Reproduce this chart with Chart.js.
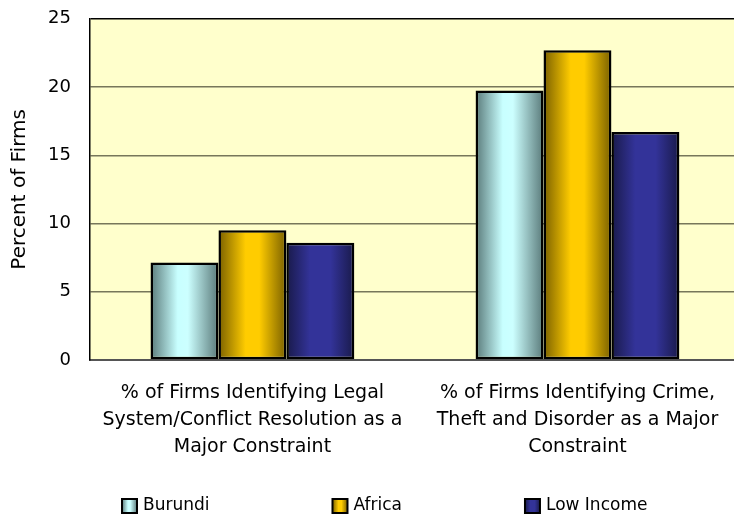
<!DOCTYPE html>
<html>
<head>
<meta charset="utf-8">
<script src="https://cdn.jsdelivr.net/npm/chart.js@4"></script>
<style>
    html, body { margin: 0; padding: 0; background: #fff; overflow: hidden; }
    #wrap { width: 740px; height: 516px; }
</style>
</head>
<body>
<div id="wrap"><canvas id="firmsChart" width="740" height="516"></canvas></div>
<script>
const categories = [
    ['% of Firms Identifying Legal', 'System/Conflict Resolution as a', 'Major Constraint'],
    ['% of Firms Identifying Crime,', 'Theft and Disorder as a Major', 'Constraint']
];
const seriesNames = ['Burundi', 'Africa', 'Low Income'];
const burundiValues = [7.15, 19.75];
const africaValues = [9.5, 22.7];
const lowIncomeValues = [8.6, 16.7];
const yTicks = [0, 5, 10, 15, 20, 25];

const baseColors = ['#ccffff', '#ffcc00', '#333399'];
const gradientStops = [
    [[0, '#5a7a7a'], [0.4, '#c8ffff'], [0.55, '#ccffff'], [1, '#5a7a7a']],
    [[0, '#7a6000'], [0.4, '#ffcc00'], [0.6, '#ffcc00'], [1, '#7a6000']],
    [[0, '#191a4a'], [0.35, '#333399'], [0.65, '#333399'], [1, '#191a4a']]
];
const FONT = 'DejaVu Sans';

function makeGradient(ctx, x0, x1, stops) {
    const g = ctx.createLinearGradient(x0, 0, x1, 0);
    stops.forEach(s => g.addColorStop(s[0], s[1]));
    return g;
}

const plotBackground = {
    id: 'plotBackground',
    beforeDraw(chart) {
        const { ctx, chartArea } = chart;
        ctx.save();
        ctx.fillStyle = '#ffffcc';
        ctx.fillRect(chartArea.left, chartArea.top, chartArea.right - chartArea.left, chartArea.bottom - chartArea.top);
        ctx.restore();
    }
};

// bars share one options object, so give each its own copy with a gradient
const cylinderFill = {
    id: 'cylinderFill',
    beforeDatasetsDraw(chart) {
        const ctx = chart.ctx;
        chart.data.datasets.forEach((ds, i) => {
            chart.getDatasetMeta(i).data.forEach(bar => {
                const half = bar.width / 2;
                const opts = Object.assign({}, bar.options);
                opts.backgroundColor = makeGradient(ctx, bar.x - half, bar.x + half, gradientStops[i]);
                bar.options = opts;
            });
        });
    }
};

const bottomLegend = {
    id: 'bottomLegend',
    afterDraw(chart) {
        const ctx = chart.ctx;
        const y = 506;
        let x = 122;
        ctx.save();
        ctx.font = '17px "' + FONT + '"';
        ctx.textBaseline = 'middle';
        chart.data.datasets.forEach((ds, i) => {
            ctx.fillStyle = makeGradient(ctx, x, x + 15, gradientStops[i]);
            ctx.fillRect(x, y - 7, 15, 14);
            ctx.strokeStyle = '#000';
            ctx.lineWidth = 2;
            ctx.strokeRect(x, y - 7, 15, 14);
            ctx.fillStyle = '#000';
            ctx.fillText(ds.label, x + 21, y);
            x += 21 + ctx.measureText(ds.label).width + 123;
        });
        ctx.restore();
    }
};

const ctx = document.getElementById('firmsChart').getContext('2d');
new Chart(ctx, {
    type: 'bar',
    data: {
        labels: categories,
        datasets: [
            { label: seriesNames[0], data: burundiValues, backgroundColor: baseColors[0] },
            { label: seriesNames[1], data: africaValues, backgroundColor: baseColors[1] },
            { label: seriesNames[2], data: lowIncomeValues, backgroundColor: baseColors[2] }
        ]
    },
    options: {
        responsive: false,
        animation: false,
        events: [],
        layout: { padding: { top: 0, bottom: 55, left: 0, right: 0 } },
        datasets: {
            bar: {
                borderColor: '#000',
                borderWidth: 2.5,
                borderSkipped: false,
                barPercentage: 1,
                categoryPercentage: 0.627
            }
        },
        plugins: {
            legend: { display: false },
            tooltip: { enabled: false }
        },
        scales: {
            x: {
                grid: { display: false, drawTicks: true, tickLength: 20 },
                border: { color: '#555', width: 2 },
                ticks: {
                    color: '#000',
                    padding: 0,
                    maxRotation: 0,
                    autoSkip: false,
                    font: { family: FONT, size: 19, lineHeight: 1.421 }
                }
            },
            y: {
                min: 0,
                max: 25,
                afterBuildTicks(scale) { scale.ticks = yTicks.map(v => ({ value: v })); },
                grid: {
                    drawTicks: true,
                    tickLength: 11,
                    tickColor: 'rgba(0,0,0,0)',
                    color: c => (c.tick && c.tick.value === 25 ? '#000' : '#77775a'),
                    lineWidth: 1.5
                },
                border: { color: '#000', width: 1.5 },
                title: {
                    display: true,
                    text: 'Percent of Firms',
                    color: '#000',
                    padding: { top: 8, bottom: 8 },
                    font: { family: FONT, size: 20 }
                },
                ticks: {
                    color: '#000',
                    padding: 8,
                    font: { family: FONT, size: 18 }
                }
            }
        }
    },
    plugins: [plotBackground, cylinderFill, bottomLegend]
});
</script>
</body>
</html>
